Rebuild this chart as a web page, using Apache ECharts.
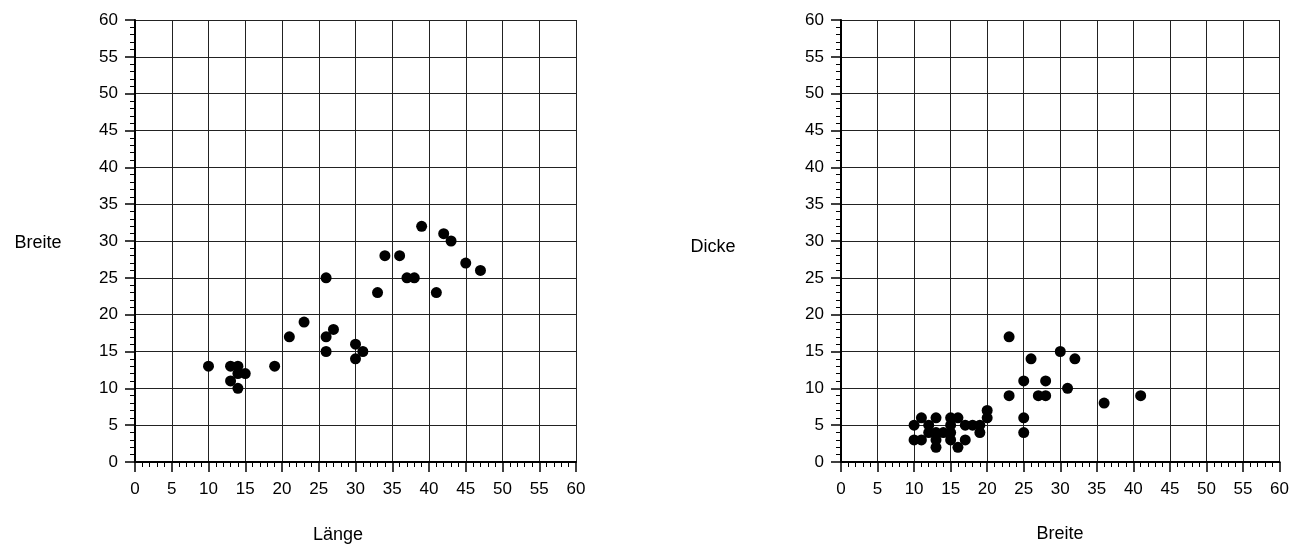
<!DOCTYPE html>
<html>
<head>
<meta charset="utf-8">
<script src="https://cdn.jsdelivr.net/npm/echarts@6/dist/echarts.min.js"></script>
<style>
html,body{margin:0;padding:0;background:#fff;}
#c{width:1292px;height:544px;}
</style>
</head>
<body>
<div id="c"></div>
<script>
// Left chart: Länge (x) vs Breite (y)
const laenge = [10,13,14,13,14,15,14,19,21,23,26,26,26,27,30,30,31,33,34,36,37,38,39,41,42,43,45,47];
const breiteL = [13,13,13,11,12,12,10,13,17,19,25,17,15,18,16,14,15,23,28,28,25,25,32,23,31,30,27,26];
// Right chart: Breite (x) vs Dicke (y)
const breiteR = [10,10,11,11,12,12,13,13,13,13,14,15,15,15,15,16,16,17,17,18,19,19,20,20,23,23,25,25,25,26,27,28,28,30,31,32,36,41];
const dicke   = [5,3,3,6,5,4,6,4,3,2,4,6,5,4,3,6,2,5,3,5,5,4,7,6,17,9,11,6,4,14,9,9,11,15,10,14,8,9];

const axisMin = 0, axisMax = 60, axisStep = 5;
const leftXName = 'Länge', leftYName = 'Breite';
const rightXName = 'Breite', rightYName = 'Dicke';

const FONT = '"Liberation Sans", Arial, Helvetica, sans-serif';

function pairs(xs, ys){ return xs.map((x,i)=>[x, ys[i]]); }

function makeAxis(gridIndex, isX){
  return {
    type: 'value', gridIndex: gridIndex,
    min: axisMin, max: axisMax, interval: axisStep,
    axisLine: {show: true, onZero: false, lineStyle: {color: '#000', width: 2}},
    axisTick: {show: true, length: 10, lineStyle: {color: '#000', width: 1.5}},
    minorTick: {show: true, splitNumber: 5, length: 5, lineStyle: {color: '#000', width: 1}},
    splitLine: {show: true, lineStyle: {color: '#222', width: 1}},
    minorSplitLine: {show: false},
    axisLabel: {color: '#000', fontSize: 17, fontFamily: FONT, margin: isX ? 19 : 17}
  };
}

const chart = echarts.init(document.getElementById('c'), null, {renderer: 'canvas'});
chart.setOption({
  backgroundColor: '#fff',
  animation: false,
  grid: [
    {left: 135, right: 716, top: 20, bottom: 82, containLabel: false},
    {left: 841, right: 12, top: 20, bottom: 82, containLabel: false}
  ],
  xAxis: [makeAxis(0, true), makeAxis(1, true)],
  yAxis: [makeAxis(0, false), makeAxis(1, false)],
  graphic: [
    {type: 'text', x: 338, y: 535, style: {text: leftXName, textAlign: 'center', textVerticalAlign: 'middle', fontSize: 18, fontFamily: FONT, fill: '#000'}},
    {type: 'text', x: 38, y: 243, style: {text: leftYName, textAlign: 'center', textVerticalAlign: 'middle', fontSize: 18, fontFamily: FONT, fill: '#000'}},
    {type: 'text', x: 1060, y: 534, style: {text: rightXName, textAlign: 'center', textVerticalAlign: 'middle', fontSize: 18, fontFamily: FONT, fill: '#000'}},
    {type: 'text', x: 713, y: 247, style: {text: rightYName, textAlign: 'center', textVerticalAlign: 'middle', fontSize: 18, fontFamily: FONT, fill: '#000'}}
  ],
  series: [
    {type: 'scatter', xAxisIndex: 0, yAxisIndex: 0, data: pairs(laenge, breiteL), symbol: 'circle', symbolSize: 11, itemStyle: {color: '#000', opacity: 1}},
    {type: 'scatter', xAxisIndex: 1, yAxisIndex: 1, data: pairs(breiteR, dicke), symbol: 'circle', symbolSize: 11, itemStyle: {color: '#000', opacity: 1}}
  ]
});
</script>
</body>
</html>
